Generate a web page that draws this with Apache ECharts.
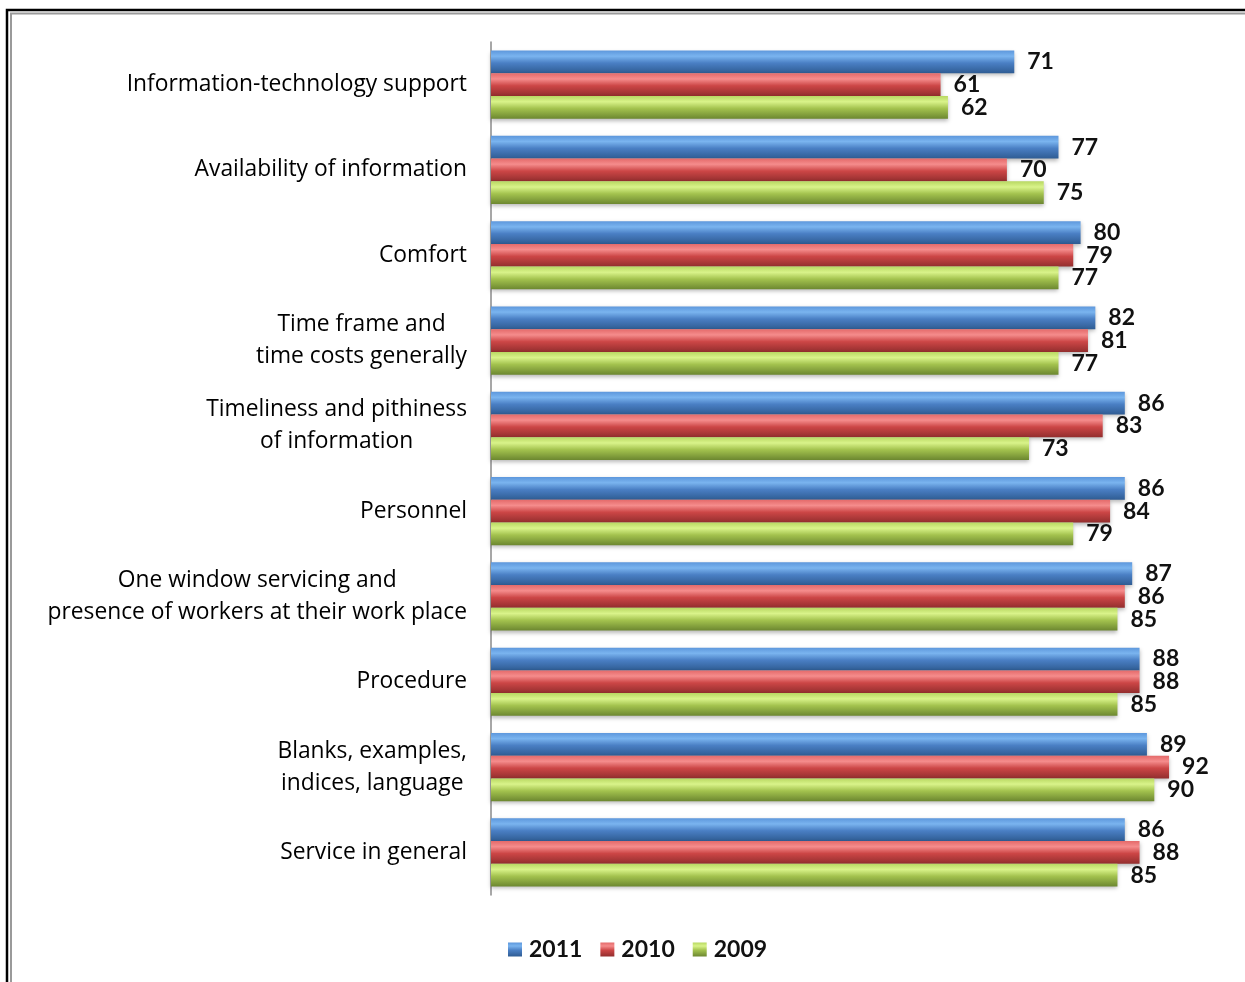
<!DOCTYPE html>
<html>
<head>
<meta charset="utf-8">
<script src="https://cdn.jsdelivr.net/npm/echarts@6/dist/echarts.min.js"></script>
<style>
  html, body { margin: 0; padding: 0; background: #fff; }
  #chart { width: 1245px; height: 982px; }
</style>
</head>
<body>
<div id="chart"></div>
<script>
// categories top to bottom
const categories = [
  'Information-technology support',
  'Availability of information',
  'Comfort',
  'Time frame and\ntime costs generally',
  'Timeliness and pithiness\nof information',
  'Personnel',
  'One window servicing and\npresence of workers at their work place',
  'Procedure',
  'Blanks, examples,\nindices, language',
  'Service in general'
];
const seriesNames = ['2011', '2010', '2009'];
const values2011 = [71, 77, 80, 82, 86, 86, 87, 88, 89, 86];
const values2010 = [61, 70, 79, 81, 83, 84, 86, 88, 92, 88];
const values2009 = [62, 75, 77, 77, 73, 79, 85, 85, 90, 85];

const font = 'Lato, "Open Sans", sans-serif';
const catFont = '"Open Sans", Lato, sans-serif';

// glossy vertical gradient, light top -> dark bottom
function gloss(top, hi, mid, bottom) {
  return new echarts.graphic.LinearGradient(0, 0, 0, 1, [
    { offset: 0, color: top },
    { offset: 0.25, color: hi },
    { offset: 0.55, color: mid },
    { offset: 1, color: bottom }
  ]);
}
const fills = [
  gloss('#5d97dc', '#7ab4ef', '#4a7fc4', '#2f5c93'),
  gloss('#e46a6a', '#f58c8c', '#cc4646', '#932e2e'),
  gloss('#b8d862', '#d9f38a', '#a3c24e', '#6c8730')
];
const dataSets = [values2011, values2010, values2009];

const chart = echarts.init(document.getElementById('chart'));

const option = {
  animation: false,
  backgroundColor: '#fff',
  graphic: [
    { type: 'rect', shape: { x: 7, y: 10, width: 1260, height: 1000 },
      style: { fill: 'none', stroke: '#000', lineWidth: 2.5 }, silent: true },
    { type: 'rect', shape: { x: 11, y: 13.5, width: 1260, height: 1000 },
      style: { fill: 'none', stroke: '#9a9a9a', lineWidth: 2 }, silent: true }
  ],
  legend: {
    data: seriesNames,
    left: 503,
    top: 933,
    itemWidth: 14,
    itemHeight: 14,
    itemGap: 18,
    icon: 'rect',
    textStyle: { fontFamily: font, fontSize: 23, fontWeight: 'bold', color: '#111', padding: [0, 0, 0, 2] }
  },
  grid: {
    left: 491,
    top: 42,
    width: 737,
    height: 853,
    containLabel: false
  },
  xAxis: {
    type: 'value',
    min: 0,
    max: 100,
    show: false,
    splitLine: { show: false }
  },
  yAxis: {
    type: 'category',
    inverse: true,
    data: categories,
    axisLine: { show: true, lineStyle: { color: '#8a8a8a', width: 1.5 } },
    axisTick: { show: false },
    axisLabel: {
      margin: 24,
      formatter: function (v) {
        return v.split('\n').map(function (s) { return '{c|' + s + '}'; }).join('\n');
      },
      rich: {
        c: { align: 'center', fontFamily: catFont, fontSize: 22.8, color: '#000', lineHeight: 32 }
      }
    }
  },
  series: seriesNames.map(function (name, i) {
    return {
      name: name,
      type: 'bar',
      data: dataSets[i],
      barGap: '0%',
      barCategoryGap: '20%',
      itemStyle: {
        color: fills[i],
        shadowColor: 'rgba(0,0,0,0.28)',
        shadowBlur: 4,
        shadowOffsetY: 2
      },
      label: {
        show: true,
        position: 'right',
        distance: 13,
        fontFamily: font,
        fontSize: 23,
        fontWeight: 'bold',
        color: '#111'
      }
    };
  })
};

chart.setOption(option);
</script>
</body>
</html>
